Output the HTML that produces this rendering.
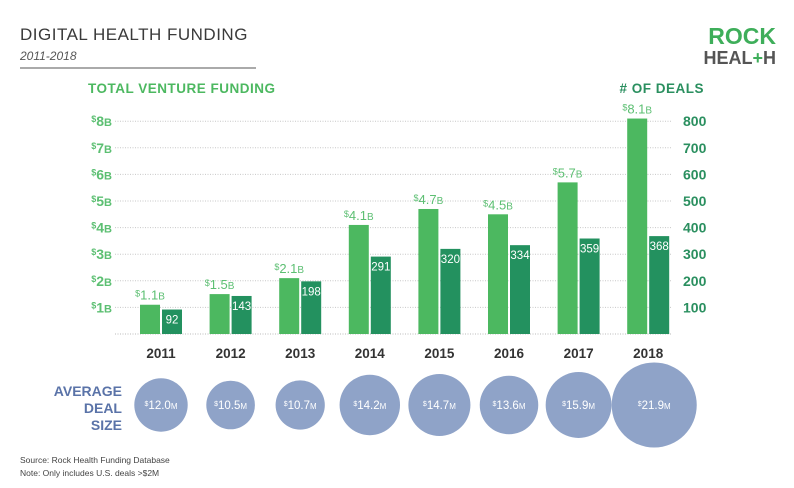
<!DOCTYPE html>
<html><head><meta charset="utf-8"><style>
body{margin:0;background:#fff;}
svg{display:block;font-family:"Liberation Sans",sans-serif;}
</style></head><body>
<svg width="794" height="488" viewBox="0 0 794 488">
<text x="20" y="40" font-size="17" fill="#3a3a3a" letter-spacing="0.5">DIGITAL HEALTH FUNDING</text>
<text x="20" y="60" font-size="12" font-style="italic" fill="#555">2011-2018</text>
<line x1="20" y1="68" x2="256" y2="68" stroke="#777" stroke-width="1.2"/>
<g>
<text x="776" y="44" text-anchor="end" font-size="23" font-weight="bold" fill="#3eae5a">ROCK</text>
<text x="776" y="64" text-anchor="end" font-size="18" font-weight="bold" fill="#555">HEAL<tspan fill="#3eae5a">+</tspan>H</text>
</g>
<text x="88" y="93" font-size="13.5" font-weight="bold" fill="#4cb860" letter-spacing="0.5">TOTAL VENTURE FUNDING</text>
<text x="704" y="93" text-anchor="end" font-size="13.5" font-weight="bold" fill="#2a8f5f" letter-spacing="0.5"># OF DEALS</text>
<g id="grid"></g><g id="bars"></g><g id="bubbles"></g>
<g font-size="14" font-weight="bold" fill="#5a73a8" text-anchor="end">
<text x="122" y="396">AVERAGE</text><text x="122" y="413">DEAL</text><text x="122" y="430">SIZE</text>
</g>
<text x="20" y="463" font-size="8.5" fill="#444">Source: Rock Health Funding Database</text>
<text x="20" y="476" font-size="8.5" fill="#444">Note: Only includes U.S. deals &gt;$2M</text>
</svg>
<script>
const years=["2011","2012","2013","2014","2015","2016","2017","2018"];
const funding=[1.1,1.5,2.1,4.1,4.7,4.5,5.7,8.1];
const deals=[92,143,198,291,320,334,359,368];
const dealSize=[12.0,10.5,10.7,14.2,14.7,13.6,15.9,21.9];
const fundTicks=[1,2,3,4,5,6,7,8];
const dealTicks=[100,200,300,400,500,600,700,800];
const NS="http://www.w3.org/2000/svg";
const y0=334, pxPerB=26.6;
const yF=v=>y0-v*pxPerB;
const yD=v=>y0-v/100*pxPerB;
const xC=i=>161+i*69.6;
const rB=v=>1.6*v+7.5;
function mk(tag,attrs,parent,text){const e=document.createElementNS(NS,tag);for(const k in attrs)e.setAttribute(k,attrs[k]);if(text!==undefined)e.textContent=text;parent.appendChild(e);return e;}
const grid=document.getElementById('grid'),bars=document.getElementById('bars'),bub=document.getElementById('bubbles');
mk('line',{x1:115,x2:672,y1:y0,y2:y0,stroke:'#bbb','stroke-dasharray':'1,1.5'},grid);
fundTicks.forEach(t=>{
 const l=mk('line',{x1:115,x2:672,y1:yF(t),y2:yF(t),stroke:'#c8c8c8','stroke-dasharray':'1,1.5'},grid);
 
 
 const tx=mk('text',{x:112,y:yF(t)+5,'text-anchor':'end','font-size':14,fill:'#5cbf72','font-weight':'bold'},grid);
 
 
 mk('tspan',{'font-size':9,dy:-4},tx,'$');mk('tspan',{dy:4},tx,t);mk('tspan',{'font-size':11},tx,'B');
});
dealTicks.forEach(t=>{
 const tx=mk('text',{x:683,y:yD(t)+5,'font-size':14,fill:'#2a8f5f','font-weight':'bold'},grid,t);
 
 
});
years.forEach((yr,i)=>{
 const c=xC(i);
 const fb=mk('rect',{x:c-21,y:yF(funding[i]),width:20,height:y0-yF(funding[i]),fill:'#4cb860'},bars);
 
 
 const fl=mk('text',{x:c-11,y:yF(funding[i])-5,'text-anchor':'middle','font-size':13,fill:'#5cbf72'},bars);
 
 
 mk('tspan',{'font-size':9,dy:-3},fl,'$');mk('tspan',{dy:3},fl,funding[i].toFixed(1));mk('tspan',{'font-size':10},fl,'B');
 const db=mk('rect',{x:c+1,y:yD(deals[i]),width:20,height:y0-yD(deals[i]),fill:'#23915f'},bars);
 
 
 const dl=mk('text',{x:c+11,y:yD(deals[i])+14,'text-anchor':'middle','font-size':11.5,fill:'#fff'},bars,deals[i]);
 
 
 const yl=mk('text',{x:c,y:358,'text-anchor':'middle','font-size':13.5,'font-weight':'bold',fill:'#333'},bars,yr);
 
 
 const bc=i===7?c+6:c;
 const ci=mk('circle',{cx:bc,cy:405,r:rB(dealSize[i]),fill:'#8fa3c8'},bub);
 
 
 const bt=mk('text',{x:bc,y:409,'text-anchor':'middle','font-size':11.5,fill:'#fff'},bub);
 
 
 mk('tspan',{'font-size':7,dy:-3},bt,'$');mk('tspan',{dy:3},bt,dealSize[i].toFixed(1));mk('tspan',{'font-size':8},bt,'M');
});
</script>
</body></html>
